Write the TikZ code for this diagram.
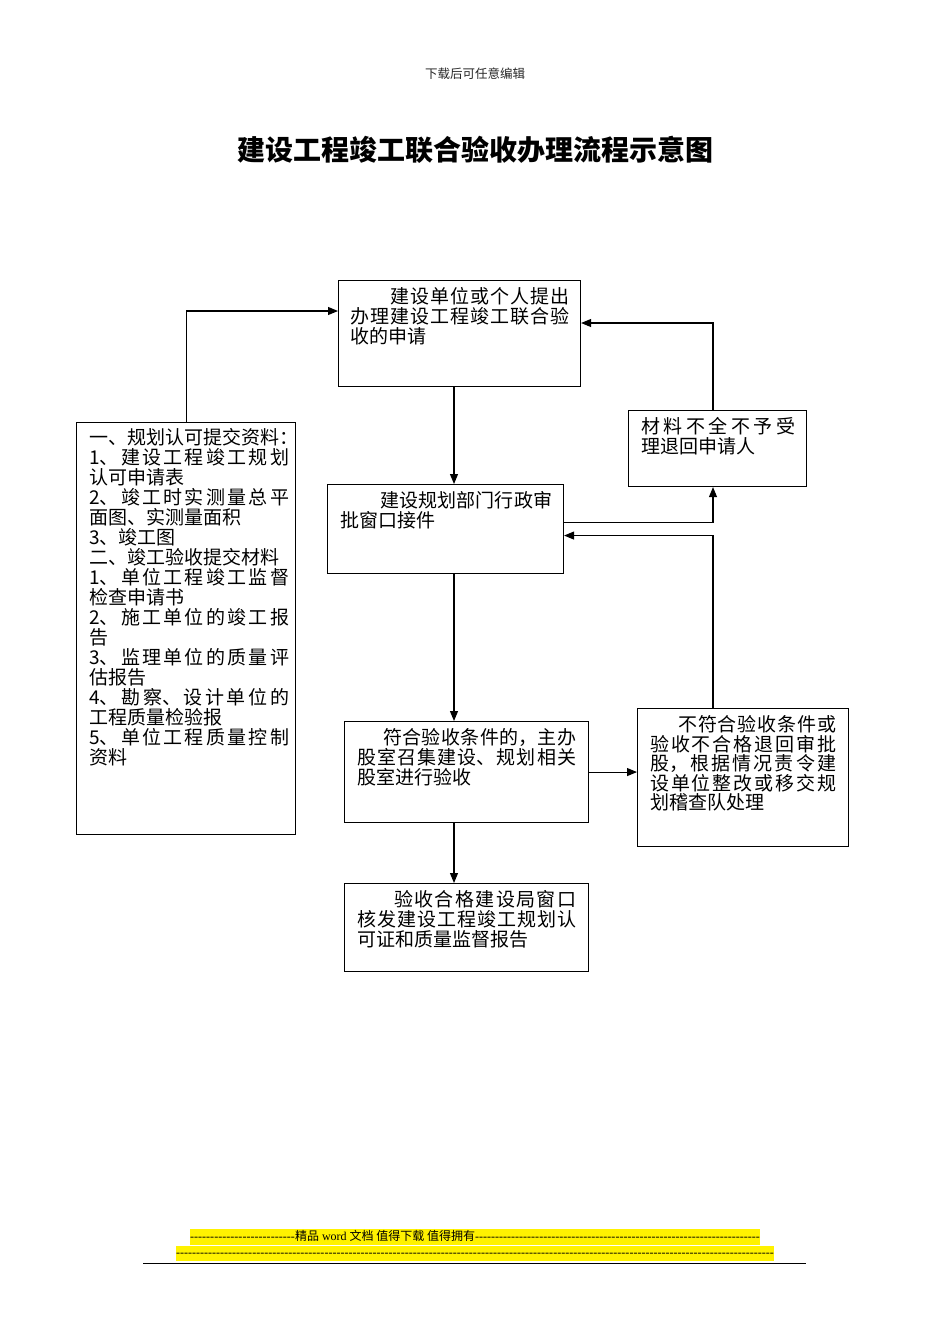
\documentclass[tikz,border=0pt]{standalone}
\usepackage{fontspec}
\setmainfont{Noto Sans CJK SC}
\newfontfamily\tms{Liberation Serif}
\usetikzlibrary{arrows.meta}
\XeTeXlinebreaklocale "zh"
\XeTeXlinebreakskip=0pt plus 1fil minus 0.3pt
\newcommand\myjust{\leftskip=0pt\rightskip=0pt\parfillskip=0pt plus 1fill\relax}
\newcommand\myNL{\hspace{0pt plus 1fill}\break}
\newcommand\myend{\hspace{0pt plus 1filll}\mbox{}}
\newcommand\dashfill[1]{\xleaders\hbox{-}\hskip #1\relax}
\begin{document}
\begin{tikzpicture}[x=1pt,y=-1pt,
  box/.style={draw, line width=1.1pt, inner sep=0pt, anchor=north west},
  txt/.style={inner sep=0pt, anchor=north west, font=\fontsize{19}{20}\selectfont},
  arr/.style={line width=1.1pt, -{Triangle[length=10pt,width=8pt]}}]
\useasboundingbox (0,0) rectangle (950,1344);

% header and title
\node[font=\fontsize{12.5}{14}\selectfont, text=black!85] (hdr) at (475,74) {下载后可任意编辑};
\node[font=\fontsize{28}{32}\selectfont\bfseries] (title) at (475,150) {建设工程竣工联合验收办理流程示意图};

% boxes
\node[box, minimum width=242pt, minimum height=106pt] (a) at (338,280) {};
\node[box, minimum width=219pt, minimum height=412pt] (l) at (76,422) {};
\node[box, minimum width=236pt, minimum height=89pt] (b) at (327,484) {};
\node[box, minimum width=178pt, minimum height=76pt] (c) at (628,410) {};
\node[box, minimum width=244pt, minimum height=101pt] (d) at (344,721) {};
\node[box, minimum width=211pt, minimum height=138pt] (e) at (637,708) {};
\node[box, minimum width=244pt, minimum height=88pt] (f) at (344,883) {};

% texts
\node[txt, text width=219pt] (at) at ([xshift=12pt,yshift=-7.5pt]a.north west) {\myjust\hspace*{40pt}建设单位或个人提出\linebreak 办理建设工程竣工联合验\linebreak 收的申请\myend};
\node[txt, text width=200pt] (lt) at ([xshift=13pt,yshift=-6.5pt]l.north west) {\myjust 一、规划认可提交资料\makebox[0.5em][l]{：}\linebreak 1、建设工程竣工规划\linebreak 认可申请表\myNL 2、竣工时实测量总平\linebreak 面图、实测量面积\myNL 3、竣工图\myNL 二、竣工验收提交材料\myNL 1、单位工程竣工监督\linebreak 检查申请书\myNL 2、施工单位的竣工报\linebreak 告\myNL 3、监理单位的质量评\linebreak 估报告\myNL 4、勘察、设计单位的\linebreak 工程质量检验报\myNL 5、单位工程质量控制\linebreak 资料\myend};
\node[txt, text width=212pt] (bt) at ([xshift=13pt,yshift=-7.5pt]b.north west) {\myjust\hspace*{40pt}建设规划部门行政审\linebreak 批窗口接件\myend};
\node[txt, text width=154pt] (ct) at ([xshift=13pt,yshift=-7.5pt]c.north west) {\myjust 材料不全不予受\linebreak 理退回申请人\myend};
\node[txt, text width=219pt] (dt) at ([xshift=13pt,yshift=-7.5pt]d.north west) {\myjust\hspace*{26pt}符合验收条件的，主办\linebreak 股室召集建设、规划相关\linebreak 股室进行验收\myend};
\node[txt, text width=186pt, font=\fontsize{19}{19.4}\selectfont] (et) at ([xshift=13pt,yshift=-7.5pt]e.north west) {\myjust\hspace*{28pt}不符合验收条件或\linebreak 验收不合格退回审批\linebreak 股，根据情况责令建\linebreak 设单位整改或移交规\linebreak 划稽查队处理\myend};
\node[txt, text width=219pt] (ft) at ([xshift=13pt,yshift=-7.5pt]f.north west) {\myjust\hspace*{37pt}验收合格建设局窗口\linebreak 核发建设工程竣工规划认\linebreak 可证和质量监督报告\myend};

% connectors
\coordinate (col) at (454,0);
\coordinate (rc) at (713,0);
\draw[arr] (l.north) |- ([yshift=-31pt]a.north west);
\draw[arr] (a.south -| col) -- (b.north -| col);
\draw[arr] ([yshift=6.5pt]b.east) -| (c.south -| rc);
\draw[arr] (c.north -| rc) |- ([yshift=-43pt]a.north east);
\draw[arr] (e.north -| rc) |- ([yshift=-6.5pt]b.east);
\draw[arr] (b.south -| col) -- (d.north -| col);
\draw[arr] (d.east) -- (d.east -| e.west);
\draw[arr] (d.south -| col) -- (f.north -| col);

% footer
\node[fill=yellow, inner sep=0pt, text height=11pt, text depth=4.5pt, font=\fontsize{12}{14}\selectfont] (ft1) at (475,1237)
  {\makebox[570pt][l]{\tms\dashfill{105pt}\rmfamily 精品\tms{} word \rmfamily 文档 值得下载 值得拥有\tms\xleaders\hbox{-}\hfill}};
\node[fill=yellow, inner sep=0pt, text height=11pt, text depth=4.5pt, font=\fontsize{12}{14}\selectfont] (ft2) at (475,1253.5)
  {\makebox[598pt][l]{\tms\xleaders\hbox{-}\hfill}};
\coordinate (r1) at (143,1263.5);
\coordinate (r2) at (806,1263.5);
\draw[line width=1.3pt] (r1) -- (r2);
\end{tikzpicture}
\end{document}
